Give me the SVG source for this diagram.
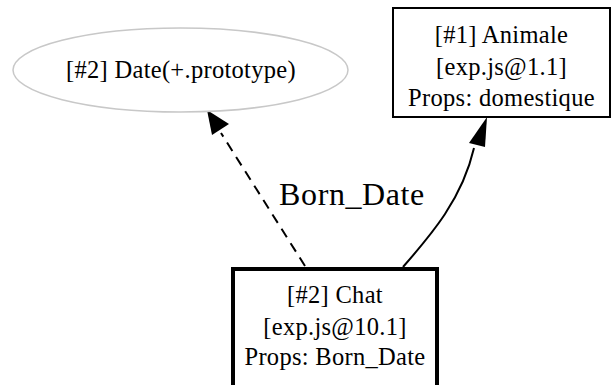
<svg xmlns="http://www.w3.org/2000/svg" width="611" height="385" viewBox="0 0 611 385">
<style>
text{font-family:"Liberation Serif","Times New Roman",serif;fill:#000;text-anchor:middle}
.n{font-size:24.5px;letter-spacing:0.3px}
.lbl{font-size:32px;letter-spacing:0.6px}
.edge{fill:none;stroke:#000;stroke-width:2}
</style>
<rect width="611" height="385" fill="#fff"/>
<g id="edges">
<path class="edge" d="M305,266 L221,133" stroke-dasharray="10,7"/>
<polygon points="207,110 212,135 229,124" fill="#000"/>
<path class="edge" d="M403,267 C430,236 462,200 474,148"/>
<polygon points="487,117 469,143 485,147" fill="#000"/>
<text class="lbl" x="352" y="205">Born_Date</text>
</g>
<g id="node-date">
<ellipse cx="180.5" cy="70" rx="167.5" ry="42" fill="#fff" stroke="#c8c8c8" stroke-width="1.5"/>
<text class="n" x="181" y="78">[#2] Date(+.prototype)</text>
</g>
<g id="node-animale">
<rect x="393" y="8" width="217" height="109" fill="#fff" stroke="#000" stroke-width="2"/>
<text class="n" x="501.5" y="43">[#1] Animale</text>
<text class="n" x="501.5" y="75">[exp.js@1.1]</text>
<text class="n" x="501.5" y="106">Props: domestique</text>
</g>
<g id="node-chat">
<rect x="233" y="269" width="204" height="120" fill="#fff" stroke="#000" stroke-width="4"/>
<text class="n" x="335" y="303">[#2] Chat</text>
<text class="n" x="335" y="335">[exp.js@10.1]</text>
<text class="n" x="335" y="365">Props: Born_Date</text>
</g>
</svg>
